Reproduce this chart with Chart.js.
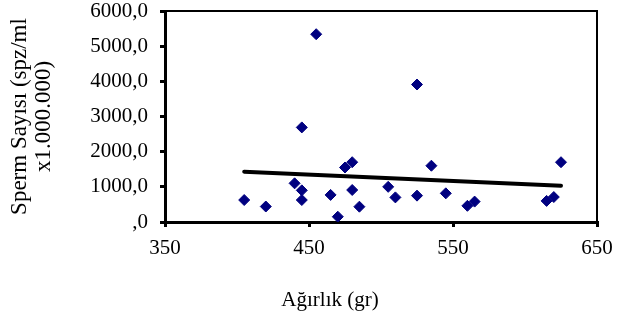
<!DOCTYPE html>
<html><head><meta charset="utf-8">
<script src="https://cdn.jsdelivr.net/npm/chart.js@4/dist/chart.umd.min.js"></script>
<style>html,body{margin:0;padding:0;background:#fff}#wrap{width:627px;height:322px}</style>
</head><body><div id="wrap"><canvas id="c" width="627" height="322"></canvas></div>
<script>
const weights = [405,420,440,445,445,445,455,465,470,475,480,480,485,505,510,525,525,535,545,560,565,615,620,625];
const spermCounts = [625,440,1100,900,625,2690,5340,770,150,1550,1700,910,435,1000,700,3910,750,1600,815,460,580,600,710,1700];
const trendX = [405,625];
const trendY = [1430,1030];
const xTickLabels = ['350','450','550','650'];
const yTickLabels = [',0','1000,0','2000,0','3000,0','4000,0','5000,0','6000,0'];
const xTitle = 'Ağırlık (gr)';
const yTitle = ['Sperm Sayısı (spz/ml','x1.000.000)'];

const FONT = '"Liberation Serif","Times New Roman",serif';

const framePlugin = {
  id:'frame',
  afterDraw(chart){
    const {ctx, chartArea:a} = chart;
    ctx.save();
    ctx.strokeStyle='#000'; ctx.lineWidth=2;
    ctx.beginPath();
    ctx.moveTo(a.left, a.top); ctx.lineTo(a.right, a.top); ctx.lineTo(a.right, a.bottom);
    ctx.stroke();
    ctx.fillStyle='#000';
    ctx.font='21px '+FONT;
    ctx.textAlign='center'; ctx.textBaseline='middle';
    ctx.fillText(xTitle, 330, 300);
    ctx.restore();
  }
};

new Chart(document.getElementById('c'), {
  type:'scatter',
  data:{datasets:[
    {data: weights.map((w,i)=>({x:w,y:spermCounts[i]})), pointStyle:'rectRot', pointRadius:5.5, pointHoverRadius:5.5,
     backgroundColor:'#000080', borderColor:'#000080', borderWidth:1, order:1},
    {type:'line', data: trendX.map((x,i)=>({x:x,y:trendY[i]})), borderColor:'#000', borderWidth:4, pointRadius:0,
     borderCapStyle:'round', showLine:true, fill:false, order:2}
  ]},
  options:{
    responsive:false, animation:false,
    layout:{padding:{top:11,right:30,left:0,bottom:0}},
    plugins:{legend:{display:false}, tooltip:{enabled:false}},
    scales:{
      x:{type:'linear', min:350, max:650,
        afterBuildTicks(s){ s.ticks = xTickLabels.map(v=>({value:+v})); },
        ticks:{color:'#000', font:{family:FONT, size:21}, padding:9, maxRotation:0,
          callback:(v)=>{const i=xTickLabels.indexOf(String(v)); return i>=0?xTickLabels[i]:'';}},
        grid:{drawOnChartArea:false, color:'#000', tickColor:'#000', tickLength:5, tickWidth:3, lineWidth:3},
        border:{color:'#000', width:3},
        afterFit(s){ s.height=100; s.paddingLeft=0; s.paddingRight=0; }
      },
      y:{type:'linear', min:0, max:6000,
        afterBuildTicks(s){ s.ticks = yTickLabels.map((t,i)=>({value:i*1000})); },
        ticks:{color:'#000', font:{family:FONT, size:21}, padding:12,
          callback:(v)=>yTickLabels[Math.round(v/1000)]},
        grid:{drawOnChartArea:false, color:'#000', tickColor:'#000', tickLength:5, tickWidth:3, lineWidth:3},
        border:{color:'#000', width:3},
        title:{display:true, text:yTitle, color:'#000', font:{family:FONT, size:23, lineHeight:1.05}, padding:{top:8,bottom:0}},
        afterFit(s){ s.width=165; s.paddingTop=0; s.paddingBottom=0; }
      }
    }
  },
  plugins:[framePlugin]
});
</script></body></html>
